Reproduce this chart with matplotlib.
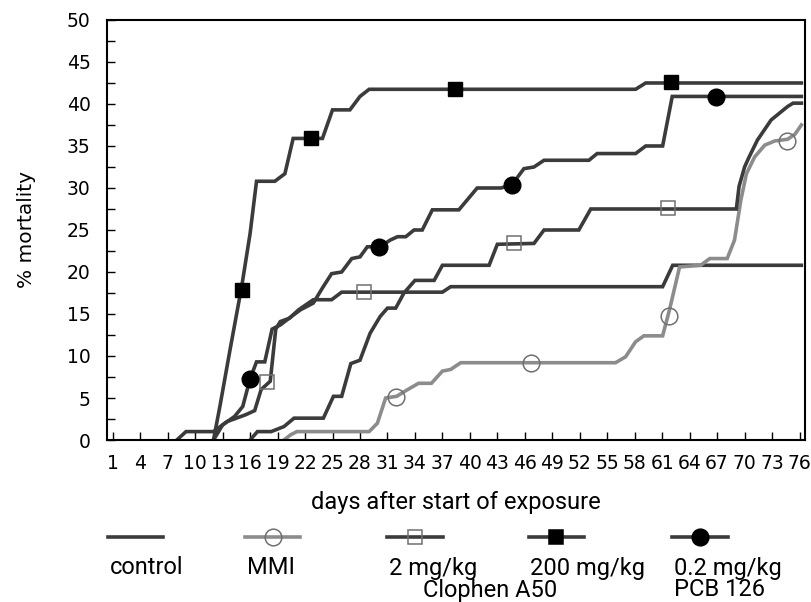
import matplotlib
matplotlib.use("Agg")
import matplotlib.pyplot as plt
from matplotlib.lines import Line2D
from matplotlib.ticker import MultipleLocator

# mortality curves (day, % mortality)
control_day = [8.0, 9.0, 12.0, 13.5, 15.5, 16.5, 17.2, 18.2, 18.8, 19.3, 20.3, 21.3,
               22.9, 24.9, 26.0, 37.0, 37.9, 61.05, 62.15, 76.2]
control_pct = [0, 1.0, 1.0, 2.2, 3.0, 3.5, 6.0, 7.0, 13.2, 14.1, 14.5, 15.5,
               16.7, 16.7, 17.6, 17.6, 18.25, 18.25, 20.8, 20.8]

mmi_day = [19.7, 20.4, 21.1, 29.0, 29.9, 30.8, 32.0, 33.2, 34.4, 35.8, 37.0, 37.9,
           39.0, 55.9, 57.0, 58.1, 59.0, 61.05, 61.8, 62.9, 65.2, 66.2, 68.1, 68.9,
           69.6, 70.2, 71.1, 72.2, 73.3, 74.7, 75.5, 76.2]
mmi_pct = [0, 0.6, 1.0, 1.0, 2.0, 5.0, 5.2, 6.0, 6.75, 6.75, 8.2, 8.4,
           9.2, 9.2, 9.9, 11.7, 12.4, 12.4, 15.5, 20.6, 20.8, 21.6, 21.6, 23.8,
           28.6, 31.7, 33.7, 35.1, 35.6, 35.8, 36.4, 37.5]

clo2_day = [16.0, 16.8, 18.3, 19.7, 20.8, 24.0, 25.1, 26.0, 27.0, 28.0, 29.1, 30.2,
            31.0, 31.9, 32.8, 34.0, 36.1, 37.0, 42.1, 43.0, 47.0, 48.1, 51.9, 53.2,
            69.1, 69.4, 70.0, 70.5, 71.4, 72.9, 74.7, 75.3, 76.2]
clo2_pct = [0, 1.0, 1.0, 1.6, 2.6, 2.6, 5.2, 5.2, 9.1, 9.5, 12.7, 14.7,
            15.7, 15.7, 17.5, 19.0, 19.0, 20.8, 20.8, 23.3, 23.4, 25.0, 25.0, 27.5,
            27.5, 30.2, 32.5, 33.7, 35.7, 38.1, 39.7, 40.1, 40.1]

clo200_day = [12.0, 12.7, 13.8, 15.1, 16.0, 16.7, 18.7, 19.8, 20.7, 23.9, 25.0, 26.9,
              28.0, 29.0, 58.1, 59.2, 76.2]
clo200_pct = [0, 4.0, 10.7, 18.4, 24.6, 30.8, 30.8, 31.7, 35.9, 35.9, 39.3, 39.3,
              40.9, 41.75, 41.75, 42.5, 42.5]

pcb_day = [12.0, 13.0, 14.3, 15.2, 16.0, 16.7, 17.6, 18.4, 19.3, 20.75, 21.5, 22.9,
           23.9, 24.9, 26.0, 27.1, 28.0, 28.8, 30.2, 31.3, 32.1, 33.0, 33.9, 34.8,
           35.9, 38.8, 40.8, 43.4, 44.6, 45.9, 47.0, 48.1, 53.0, 53.9, 58.1, 59.2,
           61.05, 62.1, 76.2]
pcb_pct = [0, 1.8, 2.8, 4.0, 7.3, 9.3, 9.3, 13.2, 13.7, 14.9, 15.5, 16.3,
           18.1, 19.8, 20.0, 21.6, 21.8, 23.0, 23.0, 23.8, 24.2, 24.2, 25.0, 25.0,
           27.4, 27.4, 30.0, 30.0, 30.4, 32.3, 32.5, 33.3, 33.3, 34.1, 34.1, 35.0,
           35.0, 40.9, 40.9]

# symbol positions
mmi_mk_day = [31.9, 46.7, 61.8, 74.6]
mmi_mk_pct = [5.1, 9.2, 14.8, 35.6]
clo2_mk_day = [17.8, 28.4, 44.8, 61.6]
clo2_mk_pct = [6.9, 17.6, 23.5, 27.6]
clo200_mk_day = [15.1, 22.6, 38.4, 62.0]
clo200_mk_pct = [17.9, 36.0, 41.75, 42.6]
pcb_mk_day = [16.0, 30.1, 44.6, 66.9]
pcb_mk_pct = [7.3, 23.0, 30.4, 40.8]

day_ticks = list(range(1, 77, 3))

DARK = "#3b3b3b"
GREY = "#8c8c8c"
EDGE = "#707070"
LW = 2.6

fig = plt.figure(figsize=(8.12, 6.02), dpi=100)
ax = fig.add_axes([0.1321, 0.2691, 0.8593, 0.6977])

ax.plot(control_day, control_pct, color=DARK, lw=LW, solid_joinstyle="miter")
ax.plot(mmi_day, mmi_pct, color=GREY, lw=LW, solid_joinstyle="miter")
ax.plot(clo2_day, clo2_pct, color=DARK, lw=LW, solid_joinstyle="miter")
ax.plot(clo200_day, clo200_pct, color=DARK, lw=LW, solid_joinstyle="miter")
ax.plot(pcb_day, pcb_pct, color=DARK, lw=LW, solid_joinstyle="miter")

ax.plot(mmi_mk_day, mmi_mk_pct, ls="none", marker="o", ms=12, mfc="none",
        mec=EDGE, mew=1.1, zorder=4)
ax.plot(clo2_mk_day, clo2_mk_pct, ls="none", marker="s", ms=10, mfc="none",
        mec=EDGE, mew=1.1, zorder=4)
ax.plot(clo200_mk_day, clo200_mk_pct, ls="none", marker="s", ms=10, mfc="black",
        mec="black", zorder=4)
ax.plot(pcb_mk_day, pcb_mk_pct, ls="none", marker="o", ms=12, mfc="black",
        mec="black", zorder=4)

ax.set_xlim(0.4, 76.6)
ax.set_ylim(0, 50)
ax.set_xticks(day_ticks)
ax.set_xticklabels([str(d) for d in day_ticks])
ax.yaxis.set_major_locator(MultipleLocator(5))
ax.yaxis.set_minor_locator(MultipleLocator(2.5))
ax.tick_params(axis="both", which="both", direction="in", length=6, width=1.0,
               labelsize=13.5, colors="black")
ax.tick_params(axis="y", pad=12)
ax.tick_params(axis="x", pad=10)
for sp in ax.spines.values():
    sp.set_linewidth(1.5)

ax.set_ylabel("% mortality", fontsize=14.5, labelpad=22)
ax.set_xlabel("days after start of exposure", fontsize=17, family="Roboto",
              labelpad=13)

# legend drawn below the axes, one column per group
legend_items = [
    ("control", DARK, None, None, None),
    ("MMI", GREY, "o", "none", EDGE),
    ("2 mg/kg", DARK, "s", "none", EDGE),
    ("200 mg/kg", DARK, "s", "black", "black"),
    ("0.2 mg/kg", DARK, "o", "black", "black"),
]
x0 = [0.133, 0.302, 0.477, 0.651, 0.828]
seg = 0.068
y_line = 1 - 537 / 602
for (lab, col, mk, fc, ec), xl in zip(legend_items, x0):
    fig.add_artist(Line2D([xl, xl + seg], [y_line, y_line], color=col, lw=LW,
                          transform=fig.transFigure))
    if mk:
        fig.add_artist(Line2D([xl + seg / 2], [y_line], ls="none", marker=mk,
                              ms=12 if mk == "o" else 10, mfc=fc, mec=ec,
                              mew=1.1, transform=fig.transFigure))
    fig.text(xl + 0.002, 1 - 568 / 602, lab, fontsize=17, family="Roboto",
             ha="left", va="center")

fig.text(0.603, 1 - 590 / 602, "Clophen A50", fontsize=17, family="Roboto",
         ha="center", va="center")
fig.text(0.830, 1 - 590 / 602, "PCB 126", fontsize=17, family="Roboto",
         ha="left", va="center")

fig.savefig("out.png", dpi=100)
